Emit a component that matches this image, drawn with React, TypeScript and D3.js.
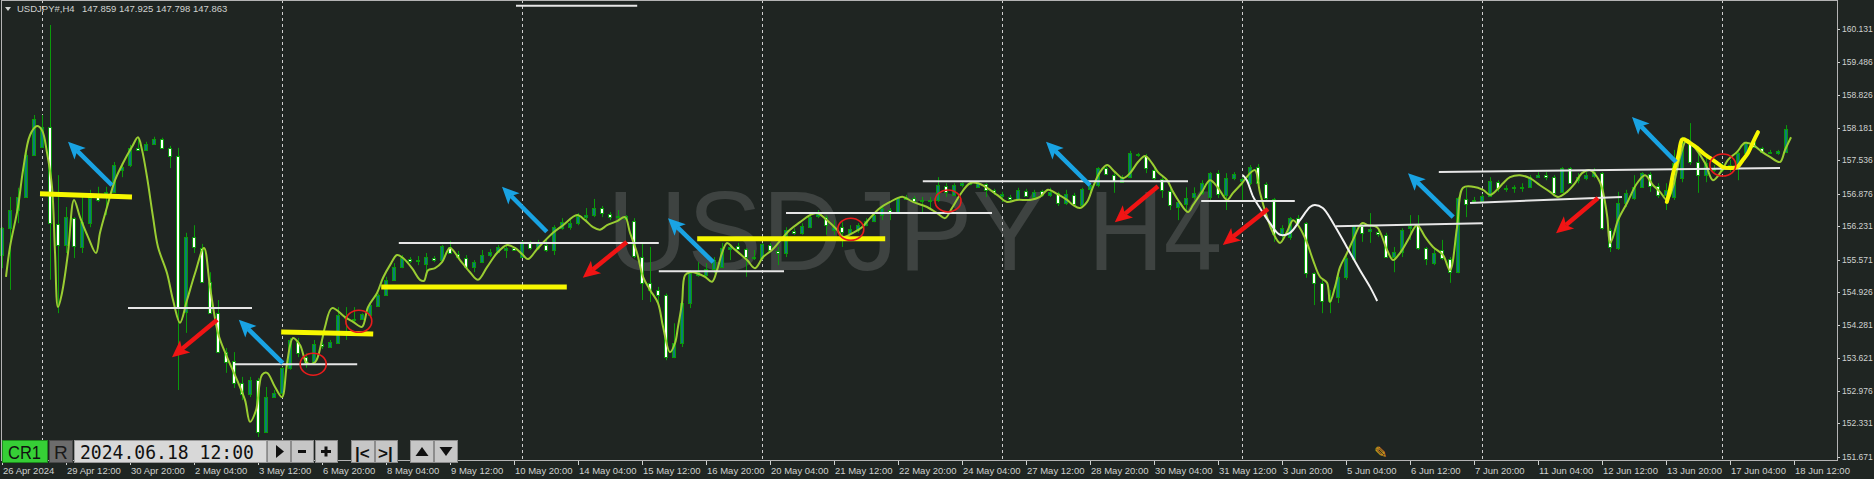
import * as d3 from 'd3';
import React from 'react';

const W = 1874;
const H = 479;

// price axis labels (right side)
const priceTicks = [
  160.131, 159.486, 158.826, 158.181, 157.536, 156.876, 156.231, 155.571, 154.926, 154.281, 153.621,
  152.976, 152.331, 151.671,
];

// time axis labels, one every 8 bars starting at bar 0
const timeLabels = [
  '26 Apr 2024', '29 Apr 12:00', '30 Apr 20:00', '2 May 04:00', '3 May 12:00', '6 May 20:00',
  '8 May 04:00', '9 May 12:00', '10 May 20:00', '14 May 04:00', '15 May 12:00', '16 May 20:00',
  '20 May 04:00', '21 May 12:00', '22 May 20:00', '24 May 04:00', '27 May 12:00', '28 May 20:00',
  '30 May 04:00', '31 May 12:00', '3 Jun 20:00', '5 Jun 04:00', '6 Jun 12:00', '7 Jun 20:00',
  '11 Jun 04:00', '12 Jun 12:00', '13 Jun 20:00', '17 Jun 04:00', '18 Jun 12:00',
];

// bars where a new week starts (period separators)
const weekStarts = [5, 35, 65, 95, 125, 155, 185, 215];

// H4 candles: open, high, low, close
const candles: [number, number, number, number][] = [
  [155.66, 156.21, 155.4, 156.19], [156.19, 156.81, 154.97, 156.55], [156.55, 156.99, 156.29, 156.81],
  [156.81, 157.68, 156.81, 157.64], [157.64, 158.43, 157.64, 158.35], [157.8, 158.43, 157.78, 158.19],
  [158.19, 160.21, 155.17, 156.29], [156.27, 157.24, 154.51, 155.86], [155.86, 156.61, 155.7, 156.41],
  [156.39, 156.41, 155.6, 155.84], [155.82, 156.81, 155.7, 156.31], [156.29, 156.95, 156.21, 156.79],
  [156.81, 157.01, 156.71, 156.75], [156.81, 157.01, 156.45, 156.91], [156.91, 157.5, 156.89, 157.44],
  [157.34, 157.48, 157.2, 157.4], [157.44, 157.84, 157.4, 157.78], [157.78, 157.99, 157.72, 157.74],
  [157.74, 157.9, 157.72, 157.86], [157.86, 158.0, 157.84, 157.96], [157.96, 157.98, 157.76, 157.78],
  [157.78, 157.82, 157.38, 157.62], [157.62, 157.78, 152.99, 154.63], [154.53, 156.1, 154.12, 156.02],
  [156.02, 156.25, 155.7, 155.82], [155.8, 155.88, 155.11, 155.13], [155.13, 155.32, 154.51, 154.51],
  [154.51, 154.77, 153.72, 153.74], [153.74, 153.82, 153.33, 153.54], [153.56, 153.74, 153.03, 153.13],
  [153.13, 153.25, 152.79, 152.91], [152.91, 153.25, 152.85, 153.19], [153.19, 153.23, 152.06, 152.16],
  [152.16, 153.05, 152.14, 152.85], [152.85, 152.99, 152.85, 152.93], [152.93, 153.45, 152.85, 153.43],
  [153.43, 154.02, 153.39, 153.98], [153.94, 154.02, 153.64, 153.72], [153.64, 153.72, 153.43, 153.52],
  [153.54, 153.98, 153.52, 153.9], [153.9, 154.0, 153.8, 153.86], [153.84, 153.98, 153.84, 153.94],
  [153.92, 154.63, 153.92, 154.47], [154.45, 154.63, 153.98, 154.41], [154.39, 154.63, 154.34, 154.38],
  [154.39, 154.51, 154.38, 154.49], [154.47, 154.73, 154.43, 154.67], [154.65, 154.9, 154.63, 154.87],
  [154.87, 155.23, 154.87, 155.17], [155.17, 155.5, 155.17, 155.42], [155.42, 155.66, 155.4, 155.6],
  [155.58, 155.62, 155.5, 155.54], [155.56, 155.64, 155.46, 155.55], [155.48, 155.7, 155.3, 155.62],
  [155.6, 155.64, 155.52, 155.56], [155.56, 155.86, 155.56, 155.84], [155.82, 155.94, 155.7, 155.7],
  [155.68, 155.74, 155.6, 155.62], [155.6, 155.66, 155.42, 155.42], [155.42, 155.56, 155.32, 155.52],
  [155.52, 155.76, 155.5, 155.66], [155.66, 155.78, 155.62, 155.72], [155.72, 155.86, 155.72, 155.82],
  [155.76, 155.86, 155.6, 155.8], [155.8, 155.82, 155.74, 155.76], [155.62, 155.94, 155.62, 155.9],
  [155.9, 155.94, 155.76, 155.8], [155.8, 155.96, 155.76, 155.9], [155.86, 155.96, 155.72, 155.76],
  [155.76, 156.25, 155.66, 156.21], [156.19, 156.39, 156.16, 156.31], [156.21, 156.35, 156.16, 156.29],
  [156.29, 156.49, 156.25, 156.43], [156.41, 156.59, 156.35, 156.45], [156.45, 156.77, 156.41, 156.59],
  [156.59, 156.63, 156.41, 156.49], [156.47, 156.51, 156.35, 156.41], [156.41, 156.55, 156.31, 156.43],
  [156.37, 156.45, 156.35, 156.43], [156.33, 156.39, 155.6, 155.64], [155.62, 155.9, 154.77, 155.11],
  [155.11, 155.82, 154.73, 154.97], [154.97, 155.03, 154.71, 154.87], [154.87, 154.9, 153.58, 153.64],
  [153.64, 154.31, 153.62, 153.92], [153.92, 154.77, 153.84, 154.71], [154.71, 155.36, 154.61, 155.3],
  [155.26, 155.52, 155.23, 155.32], [155.26, 155.5, 155.23, 155.38], [155.38, 155.62, 155.3, 155.56],
  [155.42, 155.9, 155.4, 155.8], [155.78, 155.86, 155.56, 155.82], [155.84, 155.9, 155.76, 155.78],
  [155.78, 155.8, 155.23, 155.62], [155.6, 155.76, 155.56, 155.62], [155.6, 155.9, 155.56, 155.88],
  [155.86, 155.9, 155.72, 155.76], [155.74, 155.82, 155.46, 155.7], [155.7, 156.21, 155.62, 156.16],
  [156.14, 156.19, 156.06, 156.1], [156.1, 156.29, 156.06, 156.23], [156.21, 156.49, 156.19, 156.41],
  [156.43, 156.55, 156.39, 156.47], [156.41, 156.45, 156.06, 156.25], [156.16, 156.35, 156.06, 156.21],
  [156.21, 156.31, 155.82, 156.12], [156.1, 156.25, 156.06, 156.17], [156.16, 156.29, 156.1, 156.25],
  [156.25, 156.39, 156.23, 156.33], [156.33, 156.51, 156.31, 156.45], [156.45, 156.65, 156.35, 156.59],
  [156.55, 156.59, 156.35, 156.51], [156.51, 156.81, 156.49, 156.79], [156.77, 156.85, 156.75, 156.81],
  [156.79, 156.83, 156.71, 156.73], [156.75, 156.81, 156.51, 156.75], [156.73, 156.81, 156.55, 156.75],
  [156.75, 157.2, 156.71, 157.04], [157.03, 157.08, 156.81, 156.91], [156.85, 157.08, 156.83, 157.04],
  [157.04, 157.1, 157.0, 157.08], [157.08, 157.12, 157.04, 157.06], [157.0, 157.1, 156.99, 157.08],
  [157.06, 157.08, 156.81, 156.95], [156.95, 156.97, 156.85, 156.91], [156.83, 156.91, 156.71, 156.87],
  [156.81, 156.85, 156.73, 156.77], [156.77, 156.99, 156.75, 156.95], [156.93, 156.97, 156.81, 156.83],
  [156.81, 156.95, 156.75, 156.91], [156.93, 156.95, 156.81, 156.85], [156.85, 156.99, 156.81, 156.91],
  [156.89, 156.91, 156.63, 156.69], [156.69, 156.95, 156.65, 156.87], [156.85, 156.89, 156.63, 156.67],
  [156.65, 156.99, 156.61, 156.97], [156.97, 157.08, 156.91, 157.04], [157.04, 157.4, 157.0, 157.38],
  [157.38, 157.42, 157.24, 157.26], [157.24, 157.28, 156.89, 157.12], [157.1, 157.24, 157.1, 157.2],
  [157.2, 157.72, 157.18, 157.68], [157.66, 157.68, 157.6, 157.64], [157.62, 157.66, 157.28, 157.38],
  [157.34, 157.38, 157.14, 157.18], [157.16, 157.2, 156.79, 156.95], [156.93, 156.99, 156.55, 156.65],
  [156.61, 156.75, 156.35, 156.71], [156.67, 157.0, 156.55, 156.79], [156.81, 157.0, 156.75, 156.89],
  [156.89, 157.14, 156.85, 157.08], [156.81, 157.3, 156.71, 157.28], [157.28, 157.34, 156.79, 156.87],
  [156.85, 157.28, 156.55, 157.18], [157.18, 157.3, 157.14, 157.26], [157.12, 157.2, 156.71, 157.16],
  [157.08, 157.44, 157.04, 157.4], [157.4, 157.46, 157.04, 157.08], [157.06, 157.1, 156.75, 156.79],
  [156.77, 156.79, 155.92, 156.08], [156.06, 156.25, 155.96, 156.19], [156.02, 156.41, 155.96, 156.39],
  [156.39, 156.45, 156.25, 156.29], [156.29, 156.31, 155.21, 155.3], [155.3, 155.32, 154.67, 155.11],
  [155.11, 155.17, 154.51, 154.75], [154.75, 154.97, 154.51, 154.83], [154.83, 155.3, 154.71, 155.23],
  [155.23, 155.7, 155.17, 155.6], [155.58, 156.25, 155.56, 156.23], [156.23, 156.29, 155.92, 156.1],
  [156.14, 156.49, 155.9, 156.17], [156.12, 156.16, 156.02, 156.08], [156.06, 156.1, 155.6, 155.62],
  [155.62, 155.82, 155.32, 155.72], [155.72, 156.19, 155.62, 156.16], [156.19, 156.45, 155.96, 156.23],
  [156.25, 156.45, 155.76, 155.8], [155.8, 155.82, 155.46, 155.58], [155.5, 155.8, 155.46, 155.7],
  [155.76, 155.96, 155.56, 155.6], [155.58, 155.62, 155.11, 155.32], [155.32, 156.81, 155.3, 156.79],
  [156.77, 156.99, 156.41, 156.67], [156.73, 156.81, 156.69, 156.75], [156.73, 156.87, 156.71, 156.83],
  [156.83, 157.2, 156.81, 157.12], [157.1, 157.14, 156.91, 156.99], [156.97, 157.04, 156.91, 156.99],
  [156.99, 157.04, 156.89, 157.0], [156.99, 157.08, 156.91, 157.0], [157.0, 157.24, 156.99, 157.2],
  [157.2, 157.3, 157.2, 157.24], [157.24, 157.3, 157.14, 157.2], [157.2, 157.24, 156.89, 156.89],
  [156.91, 157.4, 156.89, 157.38], [157.38, 157.4, 157.08, 157.08], [157.14, 157.28, 157.08, 157.2],
  [157.18, 157.3, 157.14, 157.24], [157.22, 157.38, 157.18, 157.3], [157.28, 157.3, 156.16, 156.19],
  [156.16, 156.19, 155.72, 155.82], [155.8, 156.91, 155.76, 156.69], [156.69, 156.95, 156.61, 156.89],
  [156.79, 157.24, 156.75, 157.0], [157.0, 157.3, 156.99, 157.28], [157.26, 157.3, 156.91, 157.03],
  [157.03, 157.08, 156.79, 156.85], [156.85, 157.08, 156.55, 156.95], [156.81, 157.74, 156.75, 157.48],
  [157.18, 158.0, 157.1, 157.9], [157.88, 158.27, 157.44, 157.5], [157.5, 157.68, 156.89, 157.24],
  [157.24, 157.6, 157.1, 157.48], [157.34, 157.44, 157.3, 157.38], [157.34, 157.48, 157.3, 157.42],
  [157.38, 157.54, 157.3, 157.44], [157.4, 157.7, 157.14, 157.68], [157.68, 157.9, 157.64, 157.88],
  [157.9, 157.94, 157.78, 157.8], [157.78, 157.8, 157.68, 157.7], [157.7, 157.74, 157.66, 157.68],
  [157.68, 157.74, 157.64, 157.72], [157.7, 158.23, 157.68, 158.15],
];

// yellow-green indicator line: [bar, price]
const maLine: [number, number][] = [
  [0.5, 155.23], [1, 155.82], [2, 156.61], [2.63, 157.34], [3.5, 158.03], [4.38, 158.21], [5, 158.13],
  [5.63, 157.68], [6.25, 157.01], [6.63, 155.7], [7, 154.63], [7.5, 154.91], [8.25, 155.7], [9, 156.75],
  [9.75, 156.41], [10.75, 156.02], [11.75, 155.7], [12.25, 156.1], [13.13, 156.61], [14.13, 157.14],
  [15.13, 157.48], [16.25, 157.8], [17, 157.99], [17.5, 157.74], [18.13, 157.2], [18.88, 156.41],
  [19.5, 155.82], [20.63, 155.3], [21.38, 154.77], [22.25, 154.32], [23.13, 154.77], [24.13, 155.3],
  [25.25, 155.8], [26, 155.03], [27, 154.12], [28.13, 153.64], [29.38, 153.19], [30.38, 152.79],
  [31, 152.36], [31.75, 152.59], [32.5, 153.29], [33.13, 153.33], [34.13, 153.05], [35, 152.85],
  [35.63, 153.52], [36.38, 154.02], [37.25, 153.88], [38.13, 153.52], [39.13, 153.54], [40, 153.98],
  [40.38, 154.24], [41.25, 154.61], [42.88, 154.43], [43.88, 154.34], [45, 154.24], [45.75, 154.63],
  [46.88, 154.91], [47.63, 155.21], [48.5, 155.46], [49.38, 155.66], [50.13, 155.6], [51.25, 155.4],
  [52.25, 155.17], [52.75, 155.15], [53.25, 155.36], [54.13, 155.4], [55, 155.52], [56, 155.8],
  [57.25, 155.56], [58.5, 155.32], [59.5, 155.17], [60.63, 155.42], [61.88, 155.7], [63.13, 155.86],
  [64.13, 155.8], [65.13, 155.66], [65.75, 155.58], [67, 155.8], [68.88, 156.1], [70.13, 156.25],
  [71.88, 156.45], [72.88, 156.35], [73.88, 156.21], [74.75, 156.16], [75.63, 156.25], [76.88, 156.33],
  [77.88, 156.41], [78.5, 156.1], [79.38, 155.7], [80.13, 155.23], [81, 154.97], [82, 154.71],
  [82.63, 154.24], [83.5, 153.74], [84.13, 153.92], [84.5, 154.24], [85, 154.71], [85.38, 155.26],
  [86, 155.32], [86.88, 155.3], [87.88, 155.23], [88.75, 155.13], [89.38, 155.36], [90, 155.7],
  [90.63, 155.9], [91.38, 155.8], [93.13, 155.56], [94.13, 155.4], [95.13, 155.62], [96.25, 155.76],
  [97.25, 155.94], [98.5, 156.16], [99.75, 156.31], [101, 156.45], [101.88, 156.49], [103.13, 156.35],
  [104.38, 156.16], [105.13, 156.02], [106.38, 156.1], [107.5, 156.21], [108.5, 156.39], [109.75, 156.59],
  [111, 156.71], [112, 156.79], [112.63, 156.81], [113.88, 156.71], [115.63, 156.61], [116.88, 156.49],
  [117.88, 156.39], [118.75, 156.59], [119.75, 156.85], [121, 157.08], [122, 157.08], [123.13, 156.99],
  [124.38, 156.85], [125.63, 156.71], [126.88, 156.75], [128.5, 156.75], [129.75, 156.81], [130.75, 156.95],
  [131.88, 156.87], [133.13, 156.75], [133.88, 156.65], [134.75, 156.59], [135.63, 156.71], [136.38, 157.01],
  [137.25, 157.3], [138.13, 157.44], [139.13, 157.3], [140.13, 157.18], [141, 157.28], [142, 157.5],
  [142.88, 157.62], [143.75, 157.48], [144.5, 157.3], [145.63, 157.14], [146.38, 156.91], [147.25, 156.69],
  [148.25, 156.51], [148.88, 156.65], [150, 156.91], [151, 157.14], [152, 156.99], [153.13, 156.75],
  [153.88, 156.89], [155, 157.08], [156, 157.28], [156.63, 157.34], [157.25, 156.89], [158.13, 156.41],
  [158.88, 156.1], [159.75, 155.9], [160.63, 156.12], [161.38, 156.35], [162.25, 156.19], [163.13, 155.9],
  [163.88, 155.56], [164.75, 155.23], [165.63, 155.11], [166, 154.73], [166.63, 155.03], [167.25, 155.42],
  [168.13, 155.7], [168.88, 155.96], [170, 156.29], [170.75, 156.25], [171.88, 156.21], [173.13, 155.76],
  [173.88, 155.56], [174.75, 155.7], [175.75, 155.96], [176.88, 156.25], [177.88, 156.02], [178.88, 155.82],
  [180.13, 155.66], [181, 155.36], [181.88, 156.21], [182.63, 156.99], [183.88, 157.01], [185.13, 156.95],
  [186, 156.85], [186.88, 156.95], [187.63, 157.08], [188.5, 157.2], [189.75, 157.24], [191, 157.18],
  [192.25, 157.04], [193.5, 156.91], [194.5, 156.81], [195.63, 156.91], [196.63, 157.08], [197.5, 157.28],
  [198.5, 157.34], [199.75, 157.1], [200.63, 156.45], [201, 155.9], [201.38, 156.02], [202, 156.35],
  [203.13, 156.69], [204.38, 157.08], [205.38, 157.24], [206.38, 157.04], [207.25, 156.91], [208.13, 156.75],
  [208.88, 157.01], [209.75, 157.6], [210.63, 157.94], [211.63, 157.78], [212.88, 157.48], [213.88, 157.14],
  [215, 157.34], [215.75, 157.54], [216.88, 157.7], [217.88, 157.88], [218.88, 157.84], [220, 157.7],
  [221, 157.6], [222.25, 157.5], [222.88, 157.74], [223.63, 157.99],
];

// white smooth curve drawn around early June
const whiteCurve: [number, number][] = [
  [155.1, 157.24], [155.6, 157.14], [156.4, 156.81], [157.25, 156.59], [158.5, 156.29], [159.75, 156.06],
  [161, 156.1], [162.25, 156.35], [163.5, 156.61], [164.1, 156.65], [165.1, 156.59], [166.4, 156.29],
  [168.1, 155.82], [169.75, 155.36], [171, 155.03], [171.9, 154.75],
];

// horizontal levels: [[bar, price], [bar, price]]
const yellowLevels: [number, number][][] = [
  [[4.75, 156.87], [16.25, 156.81]],
  [[34.9, 154.14], [46.4, 154.1]],
  [[47.4, 155.03], [70.6, 155.03]],
  [[86.9, 155.98], [110.4, 155.98]],
];

const whiteLevels: [number, number][][] = [
  [[15.75, 154.61], [31.25, 154.61]],
  [[29.1, 153.5], [44.4, 153.5]],
  [[49.6, 155.9], [82.1, 155.9]],
  [[82.1, 155.34], [97.75, 155.34]],
  [[98, 156.49], [123.75, 156.49]],
  [[115.1, 157.12], [148.25, 157.12]],
  [[149.9, 156.73], [161.6, 156.73]],
  [[166.75, 156.23], [185, 156.29]],
  [[179.6, 157.3], [222.25, 157.38]],
  [[183.5, 156.69], [202.5, 156.81]],
  [[64.25, 160.59], [79.4, 160.59]],
];

// freehand yellow stroke at the right
const yellowScribble: [number, number][] = [
  [208.1, 156.71], [208.5, 156.95], [208.9, 157.28], [209.5, 157.6], [210.0, 157.94], [210.25, 157.95],
  [210.75, 157.9], [211.9, 157.78], [212.6, 157.68], [213.5, 157.58], [214.4, 157.48], [215.1, 157.4],
  [216.0, 157.38], [216.9, 157.4], [217.6, 157.54], [218.25, 157.68], [218.9, 157.9], [219.5, 158.09],
];

// red ellipse marks: [bar, price]
const circles: [number, number][] = [
  [38.9, 153.5], [44.6, 154.35], [106.1, 156.17], [118.25, 156.73], [215.1, 157.44],
];

// arrows: [tail, tip] as [bar, price]
const blueArrows: [number, number][][] = [
  [[13.75, 157.04], [8.25, 157.9]],
  [[35.1, 153.52], [29.6, 154.38]],
  [[68.1, 156.12], [62.5, 157.01]],
  [[88.9, 155.52], [83.25, 156.39]],
  [[136, 157.04], [130.5, 157.9]],
  [[181.4, 156.41], [175.75, 157.28]],
  [[209.25, 157.5], [203.75, 158.39]],
];

const redArrows: [number, number][][] = [
  [[26.9, 154.38], [21.25, 153.64]],
  [[78.1, 155.92], [72.6, 155.21]],
  [[144.5, 157.02], [139.1, 156.31]],
  [[158.25, 156.57], [152.6, 155.86]],
  [[199.5, 156.79], [194.25, 156.09]],
];

const BG = '#1f2522';
const WICK = '#0a9a0a';
const BULL = '#0b7d78';
const AXIS_TEXT = '#cfd2d0';
const FONT = "'Liberation Sans', Arial, sans-serif";

const x = d3.scaleLinear().domain([0, 224]).range([2, 1794]);
const y = d3.scaleLinear().domain([151.671, 160.131]).range([456.7, 29]);

const Arrow: React.FC<{ from: [number, number]; to: [number, number]; color: string }> = ({ from, to, color }) => {
  const x1 = x(from[0]);
  const y1 = y(from[1]);
  const x2 = x(to[0]);
  const y2 = y(to[1]);
  const len = Math.hypot(x2 - x1, y2 - y1);
  const ux = (x2 - x1) / len;
  const uy = (y2 - y1) / len;
  const nx = -uy;
  const ny = ux;
  const head = 17;
  const half = 8;
  const bx = x2 - ux * head;
  const by = y2 - uy * head;
  const mx = x2 - ux * (head - 4);
  const my = y2 - uy * (head - 4);
  const pts = [
    [x2, y2],
    [bx + nx * half, by + ny * half],
    [mx, my],
    [bx - nx * half, by - ny * half],
  ]
    .map(p => p.join(','))
    .join(' ');
  return (
    <g>
      <line x1={x1} y1={y1} x2={mx} y2={my} stroke={color} strokeWidth={4.5} />
      <polygon points={pts} fill={color} />
    </g>
  );
};

export default function App() {
  const smooth = d3
    .line<[number, number]>()
    .x(d => x(d[0]))
    .y(d => y(d[1]))
    .curve(d3.curveCatmullRom.alpha(0.5));

  const btn = (x0: number, w: number) => (
    <rect x={x0 + 0.5} y={440.5} width={w} height={22} fill="#c6c6c6" stroke="#8c8c8c" />
  );

  return (
    <svg width={W} height={H} style={{ position: 'absolute', left: 0, top: 0 }}>
      <rect x={0} y={0} width={W} height={H} fill={BG} />

      {/* watermark */}
      <text x={607} y={270} fontFamily={FONT} fontSize={114} fill="#3e4341" textLength={440} lengthAdjust="spacingAndGlyphs">
        USDJPY
      </text>
      <text x={1088} y={270} fontFamily={FONT} fontSize={114} fill="#3e4341" textLength={134} lengthAdjust="spacingAndGlyphs">
        H4
      </text>

      {/* period separators */}
      {weekStarts.map(b => (
        <line
          key={b}
          x1={Math.round(x(b)) + 0.5}
          x2={Math.round(x(b)) + 0.5}
          y1={0}
          y2={460}
          stroke="#cfcfcf"
          strokeDasharray="3,3"
        />
      ))}

      {/* candles */}
      {candles.map((c, i) => {
        const [o, h, l, cl] = c;
        const cx = Math.round(x(i));
        const top = Math.round(y(Math.max(o, cl)));
        const bot = Math.round(y(Math.min(o, cl)));
        return (
          <g key={i}>
            <line x1={cx + 0.5} x2={cx + 0.5} y1={y(h)} y2={y(l)} stroke={WICK} strokeWidth={1} />
            <rect
              x={cx - 1.5}
              y={top + 0.5}
              width={3}
              height={Math.max(bot - top, 1)}
              fill={cl >= o ? BULL : '#ffffff'}
              stroke={WICK}
              strokeWidth={1}
            />
          </g>
        );
      })}

      {/* indicator lines */}
      <path d={smooth(maLine) || ''} fill="none" stroke="#9acd32" strokeWidth={2} />
      <path d={smooth(whiteCurve) || ''} fill="none" stroke="#f2f2f2" strokeWidth={2} />

      {/* drawn levels */}
      {whiteLevels.map((s, i) => (
        <line key={'w' + i} x1={x(s[0][0])} y1={y(s[0][1])} x2={x(s[1][0])} y2={y(s[1][1])} stroke="#e6e6e6" strokeWidth={2} />
      ))}
      {yellowLevels.map((s, i) => (
        <line key={'y' + i} x1={x(s[0][0])} y1={y(s[0][1])} x2={x(s[1][0])} y2={y(s[1][1])} stroke="#f7f700" strokeWidth={5} />
      ))}
      <path d={smooth(yellowScribble) || ''} fill="none" stroke="#f7f700" strokeWidth={4} strokeLinecap="round" strokeLinejoin="round" />

      {circles.map((c, i) => (
        <ellipse key={'c' + i} cx={x(c[0])} cy={y(c[1])} rx={13} ry={11} fill="none" stroke="#e81c1c" strokeWidth={1.6} />
      ))}

      {blueArrows.map((a, i) => (
        <Arrow key={'b' + i} from={a[0]} to={a[1]} color="#19a3e3" />
      ))}
      {redArrows.map((a, i) => (
        <Arrow key={'r' + i} from={a[0]} to={a[1]} color="#f01414" />
      ))}

      {/* frame */}
      <rect x={1.5} y={0.5} width={1836} height={460} fill="none" stroke="#b4b4b4" />

      {/* price axis */}
      {priceTicks.map(p => (
        <g key={p}>
          <line x1={1838} x2={1840} y1={Math.round(y(p)) + 0.5} y2={Math.round(y(p)) + 0.5} stroke={AXIS_TEXT} />
          <text x={1842} y={y(p)} dy="0.35em" fontFamily={FONT} fontSize={8.5} fill={AXIS_TEXT}>
            {p.toFixed(3)}
          </text>
        </g>
      ))}

      {/* time axis */}
      {timeLabels.map((t, i) => {
        const tx = Math.round(x(i * 8));
        return (
          <g key={t}>
            <line x1={tx + 0.5} x2={tx + 0.5} y1={461} y2={465} stroke={AXIS_TEXT} />
            <text x={tx + 1} y={474} fontFamily={FONT} fontSize={9.5} fill={AXIS_TEXT}>
              {t}
            </text>
          </g>
        );
      })}

      {/* header */}
      <polygon points="5,7 11,7 8,11" fill={AXIS_TEXT} />
      <text x={17} y={12} fontFamily={FONT} fontSize={9.5} fill={AXIS_TEXT}>
        USDJPY#,H4
      </text>
      <text x={82} y={12} fontFamily={FONT} fontSize={9.5} fill={AXIS_TEXT}>
        147.859 147.925 147.798 147.863
      </text>

      {/* broom icon */}
      <text x={1374} y={458} fontFamily="'DejaVu Sans', sans-serif" fontSize={16} fill="#f0a818">
        ✎
      </text>

      {/* control panel */}
      <rect x={2.5} y={440.5} width={45} height={22} fill="#36cf36" stroke="#1d8a1d" />
      <text x={8} y={459} fontFamily={FONT} fontSize={19} fill="#111" textLength={33} lengthAdjust="spacingAndGlyphs">
        CR1
      </text>
      <rect x={49.5} y={440.5} width={23} height={22} fill="#6c6c6c" stroke="#4a4a4a" />
      <text x={54} y={459} fontFamily={FONT} fontSize={19} fill="#1a1a1a">
        R
      </text>
      <rect x={74.5} y={440.5} width={192} height={22} fill="#d8d8d8" stroke="#9a9a9a" />
      <text x={80} y={459} fontFamily="'DejaVu Sans Mono', monospace" fontSize={19} fill="#111" textLength={174} lengthAdjust="spacingAndGlyphs">
        2024.06.18 12:00
      </text>
      {btn(267, 23)}
      <polygon points="276,445 276,458 284,451.5" fill="#111" />
      {btn(291, 22)}
      <rect x={298} y={450} width={8} height={3} fill="#111" />
      {btn(315, 22)}
      <rect x={321} y={450} width={10} height={3} fill="#111" />
      <rect x={324.5} y={446.5} width={3} height={10} fill="#111" />
      {btn(351, 23)}
      <text x={355} y={459} fontFamily={FONT} fontSize={17} fontWeight="bold" fill="#111">
        |&lt;
      </text>
      {btn(375, 22)}
      <text x={378} y={459} fontFamily={FONT} fontSize={17} fontWeight="bold" fill="#111">
        &gt;|
      </text>
      {btn(410, 23)}
      <polygon points="415.5,456 428.5,456 422,447" fill="#111" />
      {btn(434, 23)}
      <polygon points="439.5,447 452.5,447 446,456" fill="#111" />
    </svg>
  );
}
